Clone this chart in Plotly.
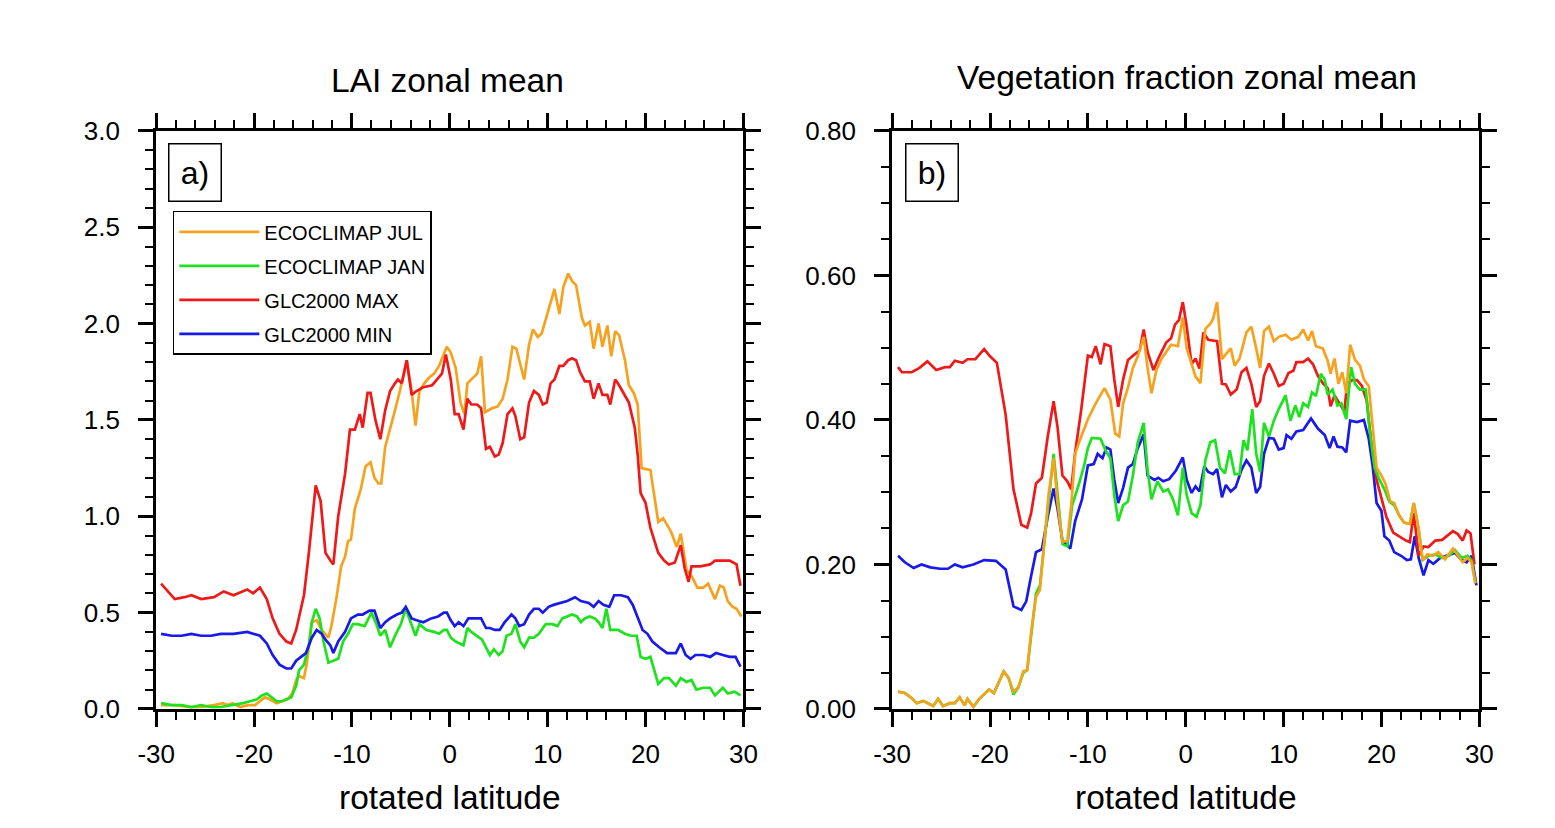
import plotly.graph_objects as go

# ---------------- data ----------------
SERIES_NAMES = ["ECOCLIMAP JUL", "ECOCLIMAP JAN", "GLC2000 MAX", "GLC2000 MIN"]
SERIES_COLORS = ["#F7A21E", "#1DE21D", "#EE1A1A", "#1A1AE8"]

X_TICKS = [-30, -20, -10, 0, 10, 20, 30]
LAI_Y_TICKS = [0.0, 0.5, 1.0, 1.5, 2.0, 2.5, 3.0]
VEG_Y_TICKS = [0.0, 0.2, 0.4, 0.6, 0.8]

# LAI zonal mean
lai_jul_x = [-29.5, -28.1, -26.7, -25.4, -24.1, -23.2, -22.7, -22.2, -21.4, -20.6, -19.9, -19.4, -18.9, -18.4, -17.7,
             -17.1, -16.6, -16.1, -15.7, -15.4, -14.9, -14.6, -14.1, -13.6, -13.1, -12.4, -12.1, -11.6, -11.1, -10.7,
             -10.4, -10.1, -9.7, -9.1, -8.6, -8.1, -7.7, -7.3, -7.0, -6.6, -6.1, -5.6, -5.1, -4.6, -4.4, -3.9, -3.5,
             -3.1, -2.6, -2.1, -1.6, -1.1, -0.6, -0.3, 0.1, 0.6, 1.1, 1.5, 1.8, 2.2, 2.8, 3.2, 3.6, 4.3, 4.9, 5.4, 5.9,
             6.4, 6.8, 7.6, 8.1, 8.5, 9.0, 9.4, 10.0, 10.7, 11.2, 11.6, 12.1, 12.5, 12.9, 13.5, 13.8, 14.3, 14.7, 15.2,
             15.6, 16.1, 16.5, 16.9, 17.3, 17.9, 18.3, 18.8, 19.2, 19.6, 20.5, 21.3, 21.8, 22.6, 23.2, 23.6, 24.2, 24.7,
             25.3, 25.9, 26.4, 27.1, 27.6, 28.0, 28.4, 28.9, 29.3, 29.8]
lai_jul_y = [0.02, 0.02, 0.01, 0.01, 0.02, 0.03, 0.02, 0.03, 0.01, 0.02, 0.02, 0.04, 0.06, 0.05, 0.03, 0.04, 0.05, 0.08,
             0.15, 0.17, 0.16, 0.24, 0.45, 0.46, 0.41, 0.37, 0.43, 0.57, 0.74, 0.79, 0.87, 0.88, 1.04, 1.14, 1.26, 1.28,
             1.20, 1.17, 1.17, 1.36, 1.45, 1.55, 1.65, 1.77, 1.81, 1.65, 1.47, 1.65, 1.69, 1.72, 1.74, 1.78, 1.84, 1.88,
             1.85, 1.77, 1.59, 1.53, 1.69, 1.71, 1.74, 1.83, 1.54, 1.56, 1.57, 1.61, 1.71, 1.88, 1.87, 1.71, 1.89, 1.97,
             1.93, 1.95, 2.05, 2.18, 2.05, 2.19, 2.26, 2.22, 2.20, 2.03, 1.99, 2.01, 1.87, 2.00, 1.88, 1.99, 1.83, 1.96,
             1.94, 1.81, 1.68, 1.64, 1.58, 1.25, 1.24, 0.97, 0.99, 0.92, 0.84, 0.91, 0.72, 0.69, 0.63, 0.63, 0.65, 0.57,
             0.64, 0.63, 0.56, 0.53, 0.52, 0.48]

lai_jan_x = [-29.5, -28.4, -27.4, -26.4, -25.4, -24.4, -23.4, -22.1, -21.1, -20.4, -19.7, -19.2, -18.7, -18.2, -17.7,
             -17.2, -16.7, -16.2, -15.7, -15.4, -14.9, -14.4, -14.1, -13.7, -13.3, -12.9, -12.4, -11.9, -11.4, -10.9,
             -10.4, -9.9, -9.4, -8.7, -8.0, -7.5, -7.1, -6.6, -6.1, -5.6, -5.0, -4.5, -3.9, -3.5, -3.1, -2.4, -1.6,
             -1.1, -0.6, -0.3, 0.1, 0.6, 1.4, 1.8, 2.2, 2.8, 3.3, 3.7, 4.1, 4.5, 5.0, 5.4, 5.8, 6.3, 6.7, 7.2, 7.6, 8.1,
             8.6, 9.1, 9.8, 10.5, 11.0, 11.5, 12.0, 12.5, 13.0, 13.4, 13.8, 14.3, 14.8, 15.2, 15.6, 16.0, 16.4, 17.2,
             17.9, 18.5, 19.1, 19.5, 20.0, 20.5, 21.3, 21.9, 22.4, 23.1, 23.6, 24.2, 24.7, 25.2, 25.9, 26.6, 27.1, 27.9,
             28.4, 29.1, 29.7]
lai_jan_y = [0.03, 0.02, 0.02, 0.01, 0.02, 0.01, 0.01, 0.02, 0.03, 0.04, 0.05, 0.07, 0.08, 0.06, 0.04, 0.04, 0.05, 0.06,
             0.12, 0.20, 0.23, 0.33, 0.45, 0.52, 0.47, 0.35, 0.24, 0.25, 0.26, 0.35, 0.39, 0.44, 0.44, 0.43, 0.50, 0.44,
             0.38, 0.41, 0.32, 0.38, 0.44, 0.52, 0.43, 0.38, 0.44, 0.41, 0.40, 0.39, 0.41, 0.41, 0.37, 0.35, 0.33, 0.42,
             0.40, 0.38, 0.36, 0.32, 0.28, 0.31, 0.28, 0.30, 0.38, 0.39, 0.44, 0.35, 0.32, 0.37, 0.37, 0.39, 0.44, 0.44,
             0.43, 0.47, 0.48, 0.49, 0.48, 0.45, 0.47, 0.48, 0.47, 0.45, 0.42, 0.52, 0.41, 0.41, 0.39, 0.38, 0.38, 0.27,
             0.26, 0.27, 0.13, 0.16, 0.16, 0.12, 0.16, 0.14, 0.15, 0.10, 0.11, 0.11, 0.07, 0.11, 0.08, 0.09, 0.07]

lai_max_x = [-29.5, -28.1, -27.1, -26.4, -25.4, -24.1, -23.1, -22.1, -20.7, -20.1, -19.4, -18.7, -18.1, -17.4, -16.7,
             -16.2, -15.7, -14.9, -14.4, -13.7, -13.2, -12.7, -12.2, -11.9, -11.4, -10.7, -10.2, -9.7, -9.2, -8.9,
             -8.4, -8.1, -7.6, -7.1, -6.6, -6.1, -5.6, -5.3, -4.9, -4.4, -3.9, -3.4, -2.7, -1.8, -1.3, -0.8, -0.4, 0.1,
             0.5, 0.9, 1.4, 1.8, 2.2, 2.8, 3.2, 3.7, 4.1, 4.6, 5.0, 5.4, 5.9, 6.4, 6.7, 7.2, 7.6, 8.1, 8.6, 9.1, 9.5,
             9.9, 10.3, 10.7, 11.2, 11.6, 12.1, 12.5, 12.9, 13.3, 13.8, 14.3, 14.7, 15.2, 15.6, 16.1, 16.4, 16.9, 17.3,
             17.9, 18.3, 18.9, 19.2, 19.5, 20.0, 20.5, 20.9, 21.3, 21.9, 22.4, 23.0, 23.6, 24.0, 24.4, 24.7, 25.6, 26.6,
             27.1, 27.9, 28.6, 29.3, 29.7]
lai_max_y = [0.65, 0.57, 0.58, 0.59, 0.57, 0.58, 0.61, 0.59, 0.62, 0.60, 0.63, 0.57, 0.47, 0.39, 0.35, 0.34, 0.41, 0.59,
             0.81, 1.16, 1.08, 0.81, 0.77, 0.75, 1.00, 1.22, 1.45, 1.45, 1.53, 1.46, 1.64, 1.64, 1.50, 1.40, 1.55, 1.65,
             1.69, 1.71, 1.69, 1.81, 1.63, 1.65, 1.67, 1.68, 1.71, 1.74, 1.84, 1.71, 1.53, 1.53, 1.45, 1.61, 1.58, 1.58,
             1.56, 1.35, 1.36, 1.31, 1.32, 1.38, 1.53, 1.56, 1.52, 1.40, 1.41, 1.59, 1.65, 1.63, 1.58, 1.59, 1.69, 1.71,
             1.78, 1.78, 1.81, 1.82, 1.81, 1.75, 1.70, 1.70, 1.61, 1.69, 1.63, 1.63, 1.58, 1.71, 1.68, 1.63, 1.59, 1.46,
             1.32, 1.12, 1.07, 0.94, 0.88, 0.81, 0.77, 0.75, 0.76, 0.85, 0.73, 0.66, 0.74, 0.74, 0.75, 0.77, 0.77, 0.77,
             0.75, 0.64]

lai_min_x = [-29.5, -28.4, -27.4, -26.4, -25.4, -24.4, -23.4, -22.1, -20.7, -20.1, -19.4, -18.7, -18.1, -17.4, -16.7,
             -16.2, -15.7, -15.2, -14.7, -14.1, -13.6, -13.1, -12.7, -12.2, -11.9, -11.4, -10.7, -10.1, -9.4, -8.9,
             -8.2, -7.7, -7.1, -6.6, -6.1, -5.4, -4.9, -4.5, -3.9, -3.4, -2.7, -1.9, -1.2, -0.6, -0.3, 0.1, 0.5, 0.9,
             1.4, 1.9, 2.4, 3.2, 3.7, 4.1, 4.6, 5.1, 5.6, 6.3, 6.7, 7.1, 7.6, 8.1, 8.6, 9.1, 9.5, 10.1, 10.6, 11.3, 12.0,
             12.8, 13.4, 14.2, 14.7, 15.2, 15.7, 16.3, 16.8, 17.5, 18.2, 18.7, 19.2, 19.7, 20.2, 20.7, 21.4, 22.2, 23.1,
             23.6, 24.1, 24.6, 25.1, 25.9, 26.6, 27.2, 27.9, 28.6, 29.2, 29.7]
lai_min_y = [0.39, 0.38, 0.38, 0.39, 0.38, 0.38, 0.39, 0.39, 0.40, 0.39, 0.38, 0.34, 0.28, 0.23, 0.21, 0.21, 0.25, 0.27,
             0.29, 0.37, 0.41, 0.39, 0.36, 0.33, 0.29, 0.35, 0.40, 0.47, 0.49, 0.49, 0.51, 0.51, 0.42, 0.45, 0.47, 0.49,
             0.50, 0.53, 0.47, 0.46, 0.45, 0.47, 0.48, 0.50, 0.50, 0.46, 0.43, 0.45, 0.43, 0.47, 0.47, 0.47, 0.42, 0.42,
             0.41, 0.41, 0.45, 0.49, 0.47, 0.43, 0.44, 0.49, 0.52, 0.52, 0.50, 0.53, 0.54, 0.55, 0.56, 0.58, 0.56, 0.55,
             0.53, 0.56, 0.54, 0.53, 0.59, 0.59, 0.58, 0.54, 0.47, 0.41, 0.39, 0.35, 0.32, 0.29, 0.29, 0.34, 0.28, 0.26,
             0.28, 0.28, 0.27, 0.29, 0.28, 0.27, 0.27, 0.22]

# Vegetation fraction zonal mean
veg_jul_x = [-29.4, -28.7, -28.0, -27.5, -26.8, -26.3, -25.8, -25.3, -24.8, -24.1, -23.6, -23.1, -22.6, -22.3, -21.7,
             -21.1, -20.1, -19.6, -19.1, -18.6, -18.1, -17.6, -17.1, -16.6, -16.2, -15.8, -15.3, -14.9, -14.4, -14.0,
             -13.5, -13.1, -12.6, -12.1, -11.7, -11.3, -10.9, -10.0, -9.2, -8.7, -8.3, -7.7, -7.2, -6.8, -6.4, -5.9,
             -5.4, -4.9, -4.3, -3.9, -3.5, -3.0, -2.5, -2.0, -1.5, -0.8, -0.3, 0.1, 0.6, 1.0, 1.5, 2.0, 2.5, 2.8, 3.2,
             3.7, 4.1, 4.6, 5.0, 5.5, 6.2, 6.7, 7.2, 7.6, 8.0, 8.5, 9.0, 9.5, 10.2, 10.8, 11.5, 12.0, 12.5, 12.9, 13.3,
             14.0, 14.5, 14.8, 15.2, 15.6, 16.0, 16.4, 16.8, 17.3, 17.8, 18.2, 18.7, 19.1, 19.5, 20.0, 20.4, 20.9, 21.3,
             21.8, 22.3, 22.9, 23.3, 23.8, 24.2, 24.7, 25.3, 25.8, 26.5, 27.3, 27.8, 28.3, 28.8, 29.2, 29.6]
veg_jul_y = [0.024, 0.022, 0.015, 0.008, 0.011, 0.008, 0.004, 0.014, 0.004, 0.008, 0.008, 0.016, 0.005, 0.014, 0.003,
             0.014, 0.027, 0.022, 0.038, 0.052, 0.043, 0.024, 0.030, 0.052, 0.054, 0.106, 0.155, 0.165, 0.239, 0.298,
             0.347, 0.285, 0.231, 0.233, 0.282, 0.353, 0.369, 0.401, 0.423, 0.434, 0.444, 0.428, 0.381, 0.377, 0.423,
             0.445, 0.472, 0.488, 0.515, 0.472, 0.437, 0.469, 0.484, 0.494, 0.504, 0.502, 0.542, 0.499, 0.477, 0.460,
             0.451, 0.526, 0.533, 0.540, 0.563, 0.484, 0.491, 0.499, 0.475, 0.485, 0.521, 0.529, 0.499, 0.472, 0.523,
             0.529, 0.509, 0.515, 0.518, 0.511, 0.515, 0.525, 0.510, 0.523, 0.502, 0.499, 0.482, 0.464, 0.485, 0.450,
             0.466, 0.437, 0.504, 0.483, 0.475, 0.456, 0.447, 0.390, 0.334, 0.323, 0.312, 0.287, 0.285, 0.268, 0.258,
             0.256, 0.285, 0.249, 0.206, 0.214, 0.212, 0.217, 0.207, 0.222, 0.212, 0.203, 0.209, 0.203, 0.174]

veg_jan_x = [-29.4, -28.7, -28.0, -27.5, -26.8, -26.3, -25.8, -25.3, -24.8, -24.1, -23.6, -23.1, -22.6, -22.3, -21.7,
             -21.1, -20.1, -19.6, -19.1, -18.6, -18.1, -17.6, -17.1, -16.6, -16.2, -15.8, -15.3, -14.9, -14.4, -14.0,
             -13.5, -13.1, -12.6, -12.1, -11.6, -10.9, -10.4, -10.0, -9.6, -8.7, -8.2, -7.7, -7.3, -6.9, -6.4, -5.9,
             -5.4, -4.9, -4.3, -3.9, -3.5, -2.9, -2.3, -1.8, -1.3, -0.8, -0.3, 0.1, 0.6, 1.1, 1.5, 2.0, 2.5, 3.0, 3.5,
             4.0, 4.5, 5.0, 5.5, 5.9, 6.3, 6.8, 7.2, 7.6, 8.0, 8.5, 9.0, 9.5, 10.2, 10.7, 11.2, 11.6, 12.0, 12.5, 12.9,
             13.3, 13.8, 14.2, 14.5, 15.0, 15.5, 15.9, 16.4, 16.9, 17.3, 17.8, 18.4, 18.8, 19.3, 19.8, 20.3, 20.8, 21.3,
             21.8, 22.3, 22.9, 23.3, 23.8, 24.2, 24.8, 25.5, 26.2, 26.9, 27.5, 28.2, 28.8, 29.2, 29.6]
veg_jan_y = [0.024, 0.022, 0.015, 0.008, 0.011, 0.008, 0.004, 0.014, 0.004, 0.008, 0.008, 0.016, 0.005, 0.014, 0.003,
             0.014, 0.027, 0.022, 0.038, 0.052, 0.043, 0.020, 0.030, 0.050, 0.054, 0.103, 0.160, 0.171, 0.239, 0.287,
             0.353, 0.298, 0.228, 0.225, 0.282, 0.312, 0.336, 0.361, 0.375, 0.374, 0.358, 0.347, 0.296, 0.260, 0.282,
             0.287, 0.323, 0.369, 0.396, 0.331, 0.290, 0.315, 0.301, 0.304, 0.290, 0.268, 0.334, 0.296, 0.271, 0.266,
             0.282, 0.344, 0.369, 0.372, 0.334, 0.326, 0.358, 0.325, 0.325, 0.372, 0.358, 0.415, 0.353, 0.328, 0.396,
             0.377, 0.399, 0.415, 0.434, 0.399, 0.420, 0.404, 0.423, 0.418, 0.438, 0.433, 0.464, 0.456, 0.435, 0.442,
             0.420, 0.423, 0.401, 0.473, 0.450, 0.442, 0.442, 0.385, 0.334, 0.317, 0.304, 0.287, 0.282, 0.268, 0.258,
             0.256, 0.285, 0.249, 0.206, 0.212, 0.214, 0.209, 0.212, 0.220, 0.209, 0.212, 0.206, 0.174]

veg_max_x = [-29.4, -29.0, -28.0, -27.2, -26.4, -25.5, -24.6, -24.1, -23.6, -22.8, -22.3, -21.5, -20.6, -20.0, -19.3,
             -18.4, -17.6, -16.8, -16.2, -15.8, -15.3, -14.7, -14.1, -13.5, -13.1, -12.6, -12.1, -11.7, -11.3, -10.7,
             -10.0, -9.6, -9.2, -8.7, -8.3, -7.7, -7.3, -6.9, -6.4, -5.9, -5.2, -4.7, -4.3, -3.9, -3.3, -2.7, -2.0,
             -1.5, -1.1, -0.7, -0.3, 0.1, 0.6, 1.0, 1.4, 1.8, 2.3, 3.2, 3.7, 4.1, 4.6, 5.2, 5.7, 6.2, 6.7, 7.2, 7.6, 8.0,
             8.5, 9.0, 9.5, 10.0, 10.5, 11.0, 11.3, 12.0, 12.5, 13.0, 13.5, 14.0, 14.5, 14.8, 15.2, 15.7, 16.2, 16.5,
             17.0, 17.5, 18.0, 18.5, 19.0, 19.5, 20.0, 20.5, 21.2, 21.8, 22.5, 22.9, 23.3, 23.8, 24.3, 24.8, 25.5, 26.2,
             26.7, 27.3, 27.8, 28.3, 28.7, 29.1, 29.5]
veg_max_y = [0.473, 0.466, 0.466, 0.472, 0.481, 0.469, 0.473, 0.473, 0.482, 0.479, 0.484, 0.484, 0.498, 0.488, 0.479,
             0.407, 0.304, 0.255, 0.251, 0.271, 0.312, 0.320, 0.377, 0.426, 0.390, 0.323, 0.315, 0.304, 0.355, 0.412,
             0.489, 0.487, 0.502, 0.477, 0.505, 0.502, 0.456, 0.418, 0.456, 0.483, 0.491, 0.496, 0.525, 0.494, 0.469,
             0.488, 0.507, 0.513, 0.532, 0.538, 0.563, 0.529, 0.477, 0.485, 0.471, 0.521, 0.511, 0.509, 0.450, 0.449,
             0.435, 0.442, 0.466, 0.472, 0.450, 0.418, 0.426, 0.461, 0.478, 0.464, 0.447, 0.450, 0.465, 0.468, 0.480,
             0.480, 0.485, 0.477, 0.461, 0.451, 0.444, 0.419, 0.434, 0.422, 0.412, 0.450, 0.455, 0.455, 0.447, 0.426,
             0.363, 0.317, 0.293, 0.266, 0.244, 0.239, 0.233, 0.231, 0.271, 0.212, 0.225, 0.224, 0.233, 0.234, 0.239,
             0.246, 0.242, 0.233, 0.247, 0.243, 0.200]

veg_min_x = [-29.4, -28.7, -27.8, -27.0, -26.1, -25.1, -24.3, -23.6, -22.8, -21.7, -20.6, -19.4, -18.4, -17.6, -16.8,
             -16.3, -15.8, -15.3, -14.7, -14.1, -13.5, -13.1, -12.6, -11.8, -11.3, -10.6, -10.0, -9.4, -9.0, -8.5,
             -8.1, -7.7, -7.3, -6.9, -6.4, -5.9, -5.4, -4.9, -4.3, -3.9, -3.2, -2.8, -2.3, -1.7, -1.0, -0.3, 0.1, 0.6,
             1.0, 1.4, 1.9, 2.3, 2.8, 3.2, 3.7, 4.1, 4.6, 5.1, 5.7, 6.2, 6.7, 7.2, 7.6, 8.0, 8.5, 9.0, 9.5, 10.0, 10.3,
             10.8, 11.3, 12.0, 12.8, 13.5, 14.2, 14.7, 15.1, 15.5, 16.0, 16.4, 16.8, 17.5, 18.2, 18.7, 19.1, 19.5, 20.0,
             20.3, 20.8, 21.3, 22.0, 22.6, 23.0, 23.4, 23.8, 24.3, 24.8, 25.3, 26.0, 26.7, 27.5, 28.2, 28.7, 29.2, 29.7]
veg_min_y = [0.212, 0.203, 0.195, 0.200, 0.196, 0.194, 0.194, 0.200, 0.196, 0.200, 0.206, 0.205, 0.193, 0.142, 0.137,
             0.149, 0.184, 0.217, 0.221, 0.266, 0.305, 0.277, 0.233, 0.222, 0.260, 0.290, 0.337, 0.339, 0.353, 0.347,
             0.362, 0.359, 0.317, 0.285, 0.306, 0.334, 0.339, 0.361, 0.380, 0.323, 0.317, 0.320, 0.315, 0.318, 0.330,
             0.348, 0.317, 0.299, 0.308, 0.301, 0.336, 0.328, 0.325, 0.332, 0.293, 0.310, 0.301, 0.307, 0.331, 0.344,
             0.334, 0.299, 0.307, 0.353, 0.375, 0.374, 0.359, 0.361, 0.379, 0.374, 0.384, 0.386, 0.402, 0.388, 0.379,
             0.361, 0.377, 0.363, 0.362, 0.355, 0.399, 0.397, 0.400, 0.374, 0.336, 0.285, 0.274, 0.239, 0.233, 0.217,
             0.212, 0.206, 0.207, 0.239, 0.209, 0.185, 0.206, 0.201, 0.209, 0.212, 0.216, 0.206, 0.203, 0.212, 0.171]

LAI_SERIES = [(lai_jul_x, lai_jul_y), (lai_jan_x, lai_jan_y), (lai_max_x, lai_max_y), (lai_min_x, lai_min_y)]
VEG_SERIES = [(veg_jul_x, veg_jul_y), (veg_jan_x, veg_jan_y), (veg_max_x, veg_max_y), (veg_min_x, veg_min_y)]

for xs, ys in LAI_SERIES + VEG_SERIES:
    assert len(xs) == len(ys), (len(xs), len(ys))

# ---------------- figure ----------------
FONT = "Liberation Sans, Arial, Helvetica, sans-serif"
PAGE_W, PAGE_H = 1555, 828
OFF = 8                      # default page (body) margin in the browser
W, H = PAGE_W - OFF, PAGE_H - OFF

fig = go.Figure()

# Left panel (legend order = drawing order)
for i, (xs, ys) in enumerate(LAI_SERIES):
    fig.add_trace(go.Scatter(
        x=xs, y=ys, mode="lines", name=SERIES_NAMES[i],
        line=dict(color=SERIES_COLORS[i], width=2.7),
        xaxis="x", yaxis="y", legendgroup=SERIES_NAMES[i], showlegend=True,
    ))

# Right panel: ECOCLIMAP JUL drawn on top
for i in [3, 2, 1, 0]:
    xs, ys = VEG_SERIES[i]
    fig.add_trace(go.Scatter(
        x=xs, y=ys, mode="lines", name=SERIES_NAMES[i],
        line=dict(color=SERIES_COLORS[i], width=2.7),
        xaxis="x2", yaxis="y2", legendgroup=SERIES_NAMES[i], showlegend=False,
    ))


def px_x(p):
    """page pixel -> paper x"""
    return (p - OFF) / W


def px_y(p):
    """page pixel (from top) -> paper y"""
    return 1 - (p - OFF) / H


common_axis = dict(
    showline=True, linecolor="black", linewidth=3, mirror="allticks",
    ticks="outside", ticklen=15, tickwidth=2.5, tickcolor="black",
    showgrid=False, zeroline=False,
    tickfont=dict(family=FONT, size=26, color="black"),
)

x_axis = dict(common_axis, range=[-30, 30], tickvals=X_TICKS, ticktext=[str(v) for v in X_TICKS],
              ticklabelstandoff=5,
              minor=dict(ticks="outside", ticklen=8, tickwidth=2, tickcolor="black", dtick=2, tick0=-30,
                         showgrid=False))

fig.update_layout(
    width=W, height=H,
    margin=dict(l=0, r=0, t=0, b=0),
    paper_bgcolor="white", plot_bgcolor="white",
    font=dict(family=FONT, color="black"),
    xaxis=dict(x_axis, domain=[px_x(140), px_x(740)], anchor="y"),
    xaxis2=dict(x_axis, domain=[px_x(892), px_x(1492)], anchor="y2"),
    yaxis=dict(common_axis, domain=[px_y(720), px_y(120)], anchor="x", range=[0, 3.0],
               tickvals=LAI_Y_TICKS, tickformat=".1f", ticklabelstandoff=13,
               minor=dict(ticks="outside", ticklen=8, tickwidth=2, tickcolor="black", dtick=0.1, tick0=0,
                          showgrid=False)),
    yaxis2=dict(common_axis, domain=[px_y(720), px_y(120)], anchor="x2", range=[0, 0.8],
                tickvals=VEG_Y_TICKS, tickformat=".2f", ticklabelstandoff=13,
                minor=dict(ticks="outside", ticklen=8, tickwidth=2, tickcolor="black", dtick=0.05, tick0=0,
                           showgrid=False)),
    showlegend=True,
    legend=dict(
        x=px_x(157), y=px_y(203), xanchor="left", yanchor="top",
        bordercolor="black", borderwidth=1.5, bgcolor="white",
        font=dict(family=FONT, size=20, color="black"),
        itemwidth=80, tracegroupgap=5, itemclick=False, itemdoubleclick=False,
    ),
    annotations=[
        dict(text="LAI zonal mean", x=px_x(438), y=px_y(68), xref="paper", yref="paper",
             xanchor="center", yanchor="middle", showarrow=False, font=dict(family=FONT, size=33.5)),
        dict(text="Vegetation fraction zonal mean", x=px_x(1193), y=px_y(65), xref="paper", yref="paper",
             xanchor="center", yanchor="middle", showarrow=False, font=dict(family=FONT, size=33.5)),
        dict(text="rotated latitude", x=px_x(440), y=px_y(812), xref="paper", yref="paper",
             xanchor="center", yanchor="middle", showarrow=False, font=dict(family=FONT, size=33.5)),
        dict(text="rotated latitude", x=px_x(1192), y=px_y(812), xref="paper", yref="paper",
             xanchor="center", yanchor="middle", showarrow=False, font=dict(family=FONT, size=33.5)),
        dict(text="a)", x=px_x(180), y=px_y(163), xref="paper", yref="paper",
             xanchor="center", yanchor="middle", showarrow=False, font=dict(family=FONT, size=32),
             width=31, height=36, align="center", valign="middle",
             bordercolor="black", borderwidth=1.5, borderpad=10, bgcolor="white"),
        dict(text="b)", x=px_x(933), y=px_y(163), xref="paper", yref="paper",
             xanchor="center", yanchor="middle", showarrow=False, font=dict(family=FONT, size=32),
             width=31, height=36, align="center", valign="middle",
             bordercolor="black", borderwidth=1.5, borderpad=10, bgcolor="white"),
    ],
)

fig.write_html("out.html")
